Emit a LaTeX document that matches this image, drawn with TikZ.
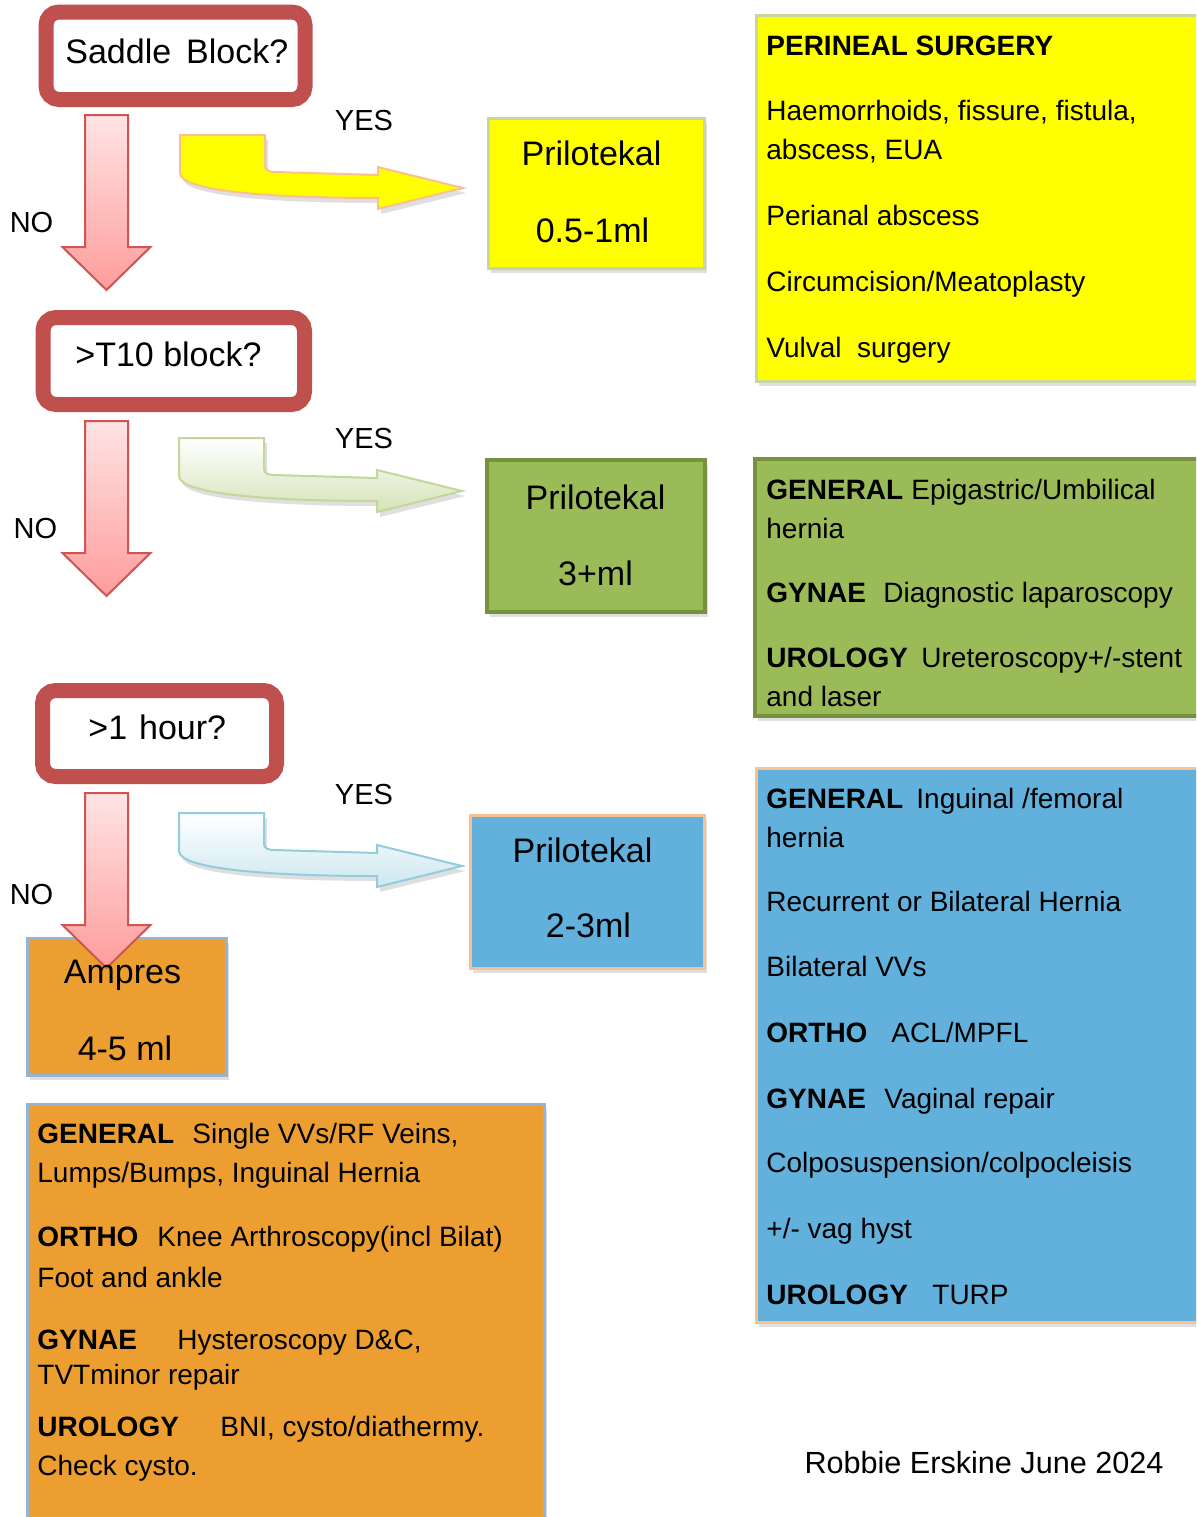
\documentclass[tikz,border=0pt]{standalone}
\usepackage{fontspec}
\setmainfont{Liberation Sans}
\usetikzlibrary{shadows}
\definecolor{decred}{HTML}{C0504D}
\definecolor{pinktop}{HTML}{FFE4E4}
\definecolor{pinkbot}{HTML}{FF9C9C}
\definecolor{pinkline}{HTML}{CF5555}
\definecolor{yel}{HTML}{FFFF00}
\definecolor{yelline}{HTML}{C8D6A0}
\definecolor{grn}{HTML}{9BBB59}
\definecolor{grnline}{HTML}{76923C}
\definecolor{blu}{HTML}{62B0DC}
\definecolor{peach}{HTML}{FAC090}
\definecolor{org}{HTML}{EC9F30}
\definecolor{orgline}{HTML}{95B3D7}
\definecolor{lgreen}{HTML}{D5E3B8}
\definecolor{lgreenline}{HTML}{C3D69B}
\definecolor{lblue}{HTML}{CDE8F0}
\definecolor{lblueline}{HTML}{93CDDD}
\newcommand\mylead[2]{\makebox[#1][l]{\textbf{#2}}}
\begin{document}
\begin{tikzpicture}[x=0.5pt,y=-0.5pt,
  shad/.style={drop shadow={opacity=.25,shadow xshift=1.5pt,shadow yshift=-2.5pt}},
  decision/.style={draw=decred,line width=7.5pt,rounded corners=6.5pt,fill=white,inner sep=0pt},
  dosebox/.style={draw,line width=1.5pt,inner sep=0pt,shad},
  listbox/.style={draw,line width=1.5pt,inner sep=0pt,shad},
  body/.style={font=\fontsize{14pt}{16pt}\selectfont,anchor=base west,inner sep=0pt},
  lbl/.style={font=\fontsize{14.5pt}{16pt}\selectfont,anchor=base,inner sep=0pt},
  big/.style={font=\fontsize{17pt}{20pt}\selectfont,anchor=base,inner sep=0pt},
  pics/downarrow/.style={code={
    \draw[line width=1pt,draw=pinkline,top color=pinktop,bottom color=pinkbot,line join=miter]
      (-21.5,0) -- (-21.5,132) -- (-44,132) -- (0,175) -- (44,132) -- (21.5,132) -- (21.5,0) -- cycle;
  }},
  pics/bentarrow/.style={code={
    \draw[line width=1pt,shad,#1]
      (0,0) -- (85,0) -- (85,31) .. controls (85,35) and (89,37) .. (95,37)
      -- (198,40) -- (198,32) -- (283,53) -- (198,74) -- (198,63)
      .. controls (80,63) and (0,55) .. (0,38) -- cycle;
  }}
]
\clip (0,0) rectangle (1196,1517);
\fill[white] (0,0) rectangle (1196,1517);

% decision boxes
\node[decision,minimum width=129.5pt,minimum height=43.75pt] (saddle) at (175.5,55.75) {};
\node[decision,minimum width=130.75pt,minimum height=43.5pt] (t10) at (173.75,361) {};
\node[decision,minimum width=117pt,minimum height=43pt] (hour) at (159.5,733.5) {};
\node[big,anchor=base west] (saddleT) at (65,63) {Saddle\hspace{7.5pt}Block?};
\node[big,anchor=base west] (t10T) at (75,366) {>T10 block?};
\node[big,anchor=base west] (hourT) at (88,739) {>1\hspace{6pt}hour?};

% dose boxes
\node[dosebox,fill=yel,draw=yelline,minimum width=108pt,minimum height=75pt] (dose1) at (596,193) {};
\node[dosebox,fill=grn,draw=grnline,line width=2pt,minimum width=109pt,minimum height=76pt] (dose2) at (596,536) {};
\node[dosebox,fill=blu,draw=peach,minimum width=117pt,minimum height=76.5pt] (dose3) at (587,891.5) {};
\node[dosebox,fill=org,draw=orgline,minimum width=99.5pt,minimum height=68.5pt] (dose4) at (126.5,1006.5) {};

% list boxes
\node[listbox,fill=yel,draw=yelline,minimum width=237pt,minimum height=183pt] (list1) at (993,198) {};
\node[listbox,fill=grn,draw=grnline,line width=2pt,minimum width=237.5pt,minimum height=128.5pt] (list2) at (992.5,587.5) {};
\node[listbox,fill=blu,draw=peach,minimum width=237pt,minimum height=277pt] (list3) at (993,1045) {};
\node[listbox,fill=org,draw=orgline,minimum width=258.5pt,minimum height=228pt] (list4) at (285.5,1332) {};

% down arrows (NO)
\coordinate (no1) at (106.5,115);
\coordinate (no2) at (106.5,421);
\coordinate (no3) at (106.5,793);
\pic at (no1) {downarrow};
\pic at (no2) {downarrow};
\pic at (no3) {downarrow};

% bent arrows (YES)
\coordinate (yes1) at (180,135);
\coordinate (yes2) at (179,438);
\coordinate (yes3) at (179,813);
\pic at (yes1) {bentarrow={fill=yel,draw=peach}};
\pic at (yes2) {bentarrow={top color=white,bottom color=lgreen,draw=lgreenline}};
\pic at (yes3) {bentarrow={top color=white,bottom color=lblue,draw=lblueline}};

% YES / NO labels
\node[lbl] (yesL1) at (364,130) {YES};
\node[lbl] (yesL2) at (364,448) {YES};
\node[lbl] (yesL3) at (364,804) {YES};
\node[lbl] (noL1) at (31.5,232) {NO};
\node[lbl] (noL2) at (35.5,538) {NO};
\node[lbl] (noL3) at (31.5,904) {NO};

% dose texts
\node[big] (d1a) at (591.5,165) {Prilotekal};
\node[big] (d1b) at (592.5,242) {0.5-1ml};
\node[big] (d2a) at (595.5,509) {Prilotekal};
\node[big] (d2b) at (595.5,585) {3+ml};
\node[big] (d3a) at (582.5,862) {Prilotekal};
\node[big] (d3b) at (588.5,937) {2-3ml};
\node[big] (d4a) at (122.5,983) {Ampres};
\node[big] (d4b) at (125,1060) {4-5 ml};

% yellow list
\node[body] (y1) at (766,55) {\textbf{PERINEAL SURGERY}};
\node[body] (y2) at (766,120) {Haemorrhoids, fissure, fistula,};
\node[body] (y3) at (766,159) {abscess, EUA};
\node[body] (y4) at (766,225) {Perianal abscess};
\node[body] (y5) at (766,291) {Circumcision/Meatoplasty};
\node[body] (y6) at (766,357) {Vulval\ \ surgery};

% green list
\node[body] (g1) at (766,499) {\mylead{72.5pt}{GENERAL}Epigastric/Umbilical};
\node[body] (g2) at (766,538) {hernia};
\node[body] (g3) at (766,602) {\mylead{58.5pt}{GYNAE}Diagnostic laparoscopy};
\node[body] (g4) at (766,667) {\mylead{77.5pt}{UROLOGY}Ureteroscopy+/-stent};
\node[body] (g5) at (766,706) {and laser};

% blue list
\node[body] (b1) at (766,808) {\mylead{75pt}{GENERAL}Inguinal /femoral};
\node[body] (b2) at (766,847) {hernia};
\node[body] (b3) at (766,911) {Recurrent or Bilateral Hernia};
\node[body] (b4) at (766,976) {Bilateral VVs};
\node[body] (b5) at (766,1042) {\mylead{62.5pt}{ORTHO}ACL/MPFL};
\node[body] (b6) at (766,1108) {\mylead{59pt}{GYNAE}Vaginal repair};
\node[body] (b7) at (766,1172) {Colposuspension/colpocleisis};
\node[body] (b8) at (766,1238) {+/- vag hyst};
\node[body] (b9) at (766,1304) {\mylead{83pt}{UROLOGY}TURP};

% orange list
\node[body] (o1) at (37,1143) {\mylead{77.5pt}{GENERAL}Single VVs/RF Veins,};
\node[body] (o2) at (37,1182) {Lumps/Bumps, Inguinal Hernia};
\node[body] (o3) at (37,1246) {\mylead{60pt}{ORTHO}Knee Arthroscopy(incl Bilat)};
\node[body] (o4) at (37,1287) {Foot and ankle};
\node[body] (o5) at (37,1349) {\mylead{70pt}{GYNAE}Hysteroscopy D\&C,};
\node[body] (o6) at (37,1384) {TVTminor repair};
\node[body] (o7) at (37,1436) {\mylead{91.5pt}{UROLOGY}BNI, cysto/diathermy.};
\node[body] (o8) at (37,1475) {Check cysto.};

% author
\node[lbl,font=\fontsize{15.3pt}{18pt}\selectfont] (author) at (984,1473) {Robbie Erskine June 2024};
\end{tikzpicture}
\end{document}
